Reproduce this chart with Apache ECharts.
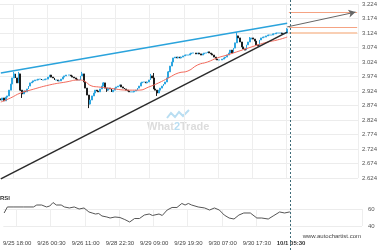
<!DOCTYPE html>
<html><head><meta charset="utf-8">
<script src="https://cdn.jsdelivr.net/npm/echarts@6/dist/echarts.min.js"></script>
<style>html,body{margin:0;padding:0;background:#fff}#c{width:380px;height:250px}</style>
</head><body><div id="c"></div>
<script>
// ---- data ----
const tickLabels = ['9/25 18:00','9/26 00:30','9/26 11:00','9/28 22:30','9/29 09:00','9/29 19:30','9/30 07:00','9/30 17:30','10/1 05:30'];
const firstTick = 8, tickStep = 21, totalCategories = 220;
const priceTicks = {min: 2.624, max: 3.224, step: 0.05};
const rsiTicks = {min: 40, max: 60, step: 20};

const firstOpen = 2.897;
const closes = [
2.893,2.900,2.890,2.903,2.907,2.927,2.948,2.969,2.983,2.969,
2.952,2.983,2.927,2.914,2.924,2.921,2.931,2.941,2.952,2.955,
2.959,2.962,2.962,2.965,2.965,2.962,2.962,2.965,2.965,2.972,
2.979,2.972,2.969,2.962,2.962,2.959,2.959,2.965,2.972,2.976,
2.979,2.979,2.979,2.976,2.972,2.969,2.965,2.962,2.962,2.976,
2.983,2.955,2.934,2.910,2.879,2.893,2.907,2.917,2.927,2.924,
2.921,2.931,2.941,2.952,2.934,2.927,2.934,2.931,2.921,2.927,
2.934,2.938,2.941,2.945,2.938,2.934,2.931,2.927,2.924,2.921,
2.921,2.921,2.924,2.927,2.934,2.941,2.952,2.955,2.955,2.952,
2.955,2.962,2.976,2.969,2.931,2.927,2.917,2.927,2.934,2.941,
2.948,2.955,2.969,2.990,3.010,3.024,3.038,3.041,3.038,3.041,
3.038,3.041,3.045,3.048,3.048,3.048,3.052,3.055,3.055,3.055,
3.052,3.055,3.052,3.048,3.052,3.055,3.055,3.059,3.055,3.052,
3.048,3.041,3.034,3.031,3.031,3.031,3.034,3.038,3.041,3.048,
3.055,3.065,3.055,3.072,3.090,3.114,3.107,3.093,3.076,3.069,
3.065,3.083,3.093,3.103,3.107,3.103,3.096,3.083,3.079,3.100,
3.107,3.110,3.110,3.114,3.117,3.117,3.117,3.121,3.121,3.124,
3.124,3.124,3.124,3.121,3.124,3.124,3.138
];
const wickHighs = {8:2.990, 11:2.990, 50:2.990, 63:2.955, 92:2.983, 94:2.986, 103:2.993, 145:3.127, 153:3.110, 176:3.141};
const wickLows = {12:2.924, 13:2.900, 54:2.865, 65:2.921, 96:2.907};

const maPoints = [
[0,2.886],[6,2.900],[12,2.917],[18,2.927],[30,2.945],[40,2.955],[48,2.962],[51,2.959],
[56,2.941],[60,2.938],[66,2.934],[79,2.927],[85,2.927],[91,2.938],[97,2.952],[103,2.969],
[109,2.986],[115,2.993],[121,3.014],[127,3.024],[133,3.038],[139,3.048],[145,3.059],
[152,3.072],[158,3.083],[164,3.093],[170,3.100],[176,3.110]
];
const resistanceLine = [[0,2.986],[176,3.158]];
const supportLine = [[0,2.621],[176,3.127]];
const forecastArrow = [[176,3.145],[218,3.196]];
const forecastLevels = [3.196, 3.145, 3.124];
const forecastStart = 177, forecastEnd = 219;
const nowIndex = 176;

const rsiPoints = [
[0,55.3],[2,62.4],[6,62.4],[12,62.4],[18,62.4],[20,64.7],[23,64.7],[26,62.4],[28,63.5],[30,67.6],
[32,64.7],[35,64.7],[37,62.4],[40,61.2],[43,62.4],[46,60.0],[49,61.2],[52,56.5],[54,55.3],[56,54.1],
[58,54.7],[60,51.8],[63,50.6],[65,49.4],[66,49.4],[68,50.6],[71,50.0],[74,47.6],[77,44.7],[80,48.8],
[83,48.8],[86,52.9],[89,54.1],[91,52.4],[92,54.7],[95,54.1],[97,52.4],[98,51.8],[100,58.8],[103,61.8],
[106,61.8],[109,66.5],[111,64.7],[113,66.5],[115,64.7],[119,62.4],[123,61.2],[126,58.8],[129,61.2],
[132,58.8],[135,52.9],[138,49.4],[141,48.2],[144,52.9],[147,55.3],[151,55.3],[155,49.4],[158,49.4],
[162,48.2],[165,51.8],[169,56.5],[172,55.3],[175,56.5],[176,55.3]
];

// ---- build ----
const categories = Array.from({length: totalCategories}, (_, i) => 'c' + i);
const tickAt = i => i >= firstTick && (i - firstTick) % tickStep === 0 && (i - firstTick) / tickStep < tickLabels.length;
const labelAt = i => tickLabels[(i - firstTick) / tickStep];
const candles = closes.map((c, i) => {
  const o = i === 0 ? firstOpen : closes[i - 1];
  const lo = wickLows[i] !== undefined ? wickLows[i] : Math.min(o, c);
  const hi = wickHighs[i] !== undefined ? wickHighs[i] : Math.max(o, c);
  return [o, c, lo, hi];
});
const FONT = 'Liberation Sans';
const FS = 6;
const grid = {left: 0, right: 18};

const chart = echarts.init(document.getElementById('c'), null, {renderer: 'canvas'});
chart.setOption({
  animation: false,
  backgroundColor: '#fff',
  textStyle: {fontFamily: FONT},
  grid: [
    Object.assign({top: 4, height: 174}, grid),
    Object.assign({top: 209, height: 17}, grid),
    Object.assign({top: 0, bottom: 0}, grid)
  ],
  xAxis: [
    {type: 'category', gridIndex: 0, data: categories, boundaryGap: true,
     axisLine: {show: false}, axisTick: {show: false, alignWithLabel: true, interval: tickAt}, axisLabel: {show: false},
     splitLine: {show: true, interval: tickAt, lineStyle: {color: '#eeeeee', width: 1}}},
    {type: 'category', gridIndex: 1, data: categories, boundaryGap: true,
     axisLine: {show: false}, axisTick: {show: false, alignWithLabel: true, interval: tickAt},
     splitLine: {show: true, interval: tickAt, lineStyle: {color: '#eeeeee', width: 1}},
     axisLabel: {show: true, interval: tickAt, fontSize: FS, color: '#444', margin: 14, fontFamily: FONT,
       formatter: (v, i) => i === nowIndex ? '{b|' + labelAt(i) + '}' : (tickAt(i) ? labelAt(i) : ''),
       rich: {b: {fontWeight: 'bold', fontSize: FS, color: '#333', fontFamily: FONT}}}},
    {type: 'category', gridIndex: 2, data: categories, boundaryGap: true, show: false}
  ],
  yAxis: [
    {type: 'value', gridIndex: 0, position: 'right', min: priceTicks.min, max: priceTicks.max, interval: priceTicks.step,
     axisLine: {show: false}, axisTick: {show: false},
     axisLabel: {fontSize: FS, color: '#555', margin: 4, fontFamily: FONT, formatter: v => v.toFixed(3)},
     splitLine: {lineStyle: {color: '#ececec', width: 1}}},
    {type: 'value', gridIndex: 1, position: 'right', min: rsiTicks.min, max: rsiTicks.max, interval: rsiTicks.step,
     axisLine: {show: false}, axisTick: {show: false},
     axisLabel: {fontSize: FS, color: '#555', margin: 6, fontFamily: FONT},
     splitLine: {lineStyle: {color: '#ececec', width: 1}}},
    {type: 'value', gridIndex: 2, min: 0, max: 1, show: false}
  ],
  graphic: [
    {type: 'polyline', z: 0, shape: {points: [[167,118],[171,113],[175,117],[179,112],[183,116],[189,110]]},
     style: {stroke: '#b9def2', lineWidth: 2, fill: null}},
    {type: 'text', z: 0, left: 147, top: 121,
     style: {text: '{g|What}{b|2}{g|Trade}', rich: {
       g: {fontSize: 11, fontWeight: 'bold', fill: '#dcdcdc', fontFamily: FONT},
       b: {fontSize: 11, fontWeight: 'bold', fill: '#b9def2', fontFamily: FONT}}}},
    {type: 'text', left: 0, top: 195, style: {text: 'RSI', fontSize: FS, fontWeight: 'bold', fill: '#333', fontFamily: FONT}},
    {type: 'text', right: 19, top: 233, style: {text: 'www.autochartist.com', fontSize: FS, fill: '#444', fontFamily: FONT}}
  ],
  series: [
    {type: 'candlestick', xAxisIndex: 0, yAxisIndex: 0, data: candles, barWidth: 1.4,
     itemStyle: {color: '#2ea6e0', color0: '#1e1e1e', borderColor: '#2ea6e0', borderColor0: '#1e1e1e', borderWidth: 1}},
    {type: 'line', xAxisIndex: 0, yAxisIndex: 0, data: maPoints.map((p, k) => k === maPoints.length - 1 ? {value: p, symbol: 'circle', symbolSize: 3} : p),
     symbol: 'none', showSymbol: true, smooth: true, lineStyle: {color: '#f26a5c', width: 1}, itemStyle: {color: '#f26a5c'}, z: 3},
    {type: 'line', xAxisIndex: 0, yAxisIndex: 0, data: resistanceLine, symbol: 'none', clip: false,
     lineStyle: {color: '#2aa3dc', width: 1.5}, z: 4},
    {type: 'line', xAxisIndex: 0, yAxisIndex: 0, data: supportLine, symbol: 'none', clip: false,
     lineStyle: {color: '#2a2a2a', width: 1.5}, z: 4},
    {type: 'line', xAxisIndex: 0, yAxisIndex: 0, data: [], symbol: 'none', z: 4,
     markLine: {silent: true, animation: false, label: {show: false},
       data: [
         [{coord: [forecastStart, forecastLevels[0]], lineStyle: {color: '#f5a383', width: 1, type: 'solid'}}, {coord: [forecastEnd, forecastLevels[0]]}],
         [{coord: [forecastStart, forecastLevels[1]], lineStyle: {color: '#f5a383', width: 1, type: 'solid'}}, {coord: [forecastEnd, forecastLevels[1]]}],
         [{coord: [forecastStart, forecastLevels[2]], lineStyle: {color: '#f9cfb4', width: 2, type: 'solid'}}, {coord: [forecastEnd, forecastLevels[2]]}]
       ], symbol: ['none', 'none']}},
    {type: 'line', xAxisIndex: 0, yAxisIndex: 0, data: [], symbol: 'none', z: 5,
     markLine: {silent: true, animation: false, label: {show: false}, symbol: ['none', 'arrow'], symbolSize: [6, 7],
       lineStyle: {color: '#666', width: 1, type: 'solid'},
       data: [[{coord: forecastArrow[0]}, {coord: forecastArrow[1]}]]}},
    {type: 'line', xAxisIndex: 1, yAxisIndex: 1, data: rsiPoints, symbol: 'none', clip: false,
     lineStyle: {color: '#555', width: 1}},
    {type: 'line', xAxisIndex: 2, yAxisIndex: 2, data: [], symbol: 'none', z: 6,
     markLine: {silent: true, animation: false, label: {show: false}, symbol: ['none', 'none'],
       lineStyle: {color: '#3d6b78', width: 1, type: [2, 2]},
       data: [{xAxis: nowIndex}]}}
  ]
});
</script></body></html>
